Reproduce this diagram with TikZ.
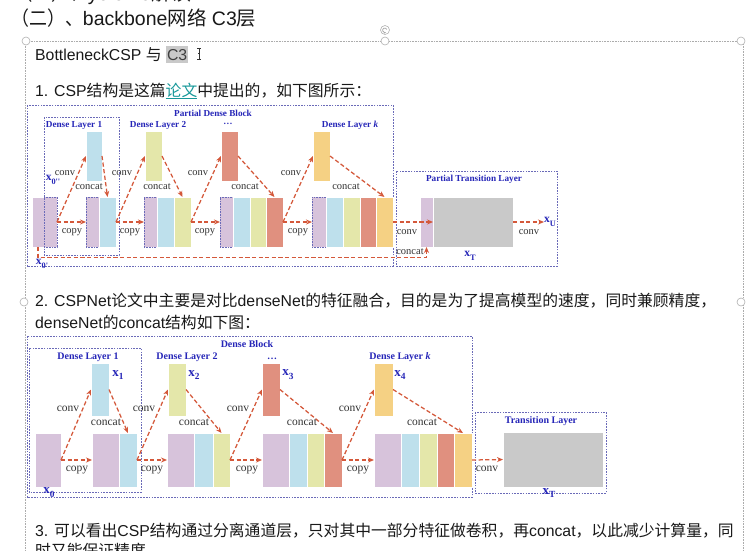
\documentclass[tikz,border=0pt]{standalone}
\usepackage{fontspec}
\usepackage{graphicx}
\setmainfont{Liberation Sans}
\newfontfamily\cjk{Noto Sans CJK SC}
\newfontfamily\tms{Liberation Serif}
\usetikzlibrary{arrows.meta}
\definecolor{cpur}{HTML}{D7C3DB}
\definecolor{cblb}{HTML}{BEE0EC}
\definecolor{cgrn}{HTML}{E4E7AA}
\definecolor{cred}{HTML}{E0907F}
\definecolor{cyel}{HTML}{F5D184}
\definecolor{cgry}{HTML}{C9C9C9}
\definecolor{carr}{HTML}{D4583A}
\definecolor{cblu}{HTML}{2626B8}
\definecolor{cfrm}{HTML}{6A6AB8}
\definecolor{clink}{HTML}{17989A}
\newcommand\zh[1]{{\cjk #1}}
\makeatletter
\newcommand\xs[2]{#1\raisebox{-0.3em}{\fontsize{\dimexpr 0.72\dimexpr\f@size pt\relax\relax}{1pt}\selectfont #2}}
\makeatother
\newcommand\blk[7][]{\node[blkst,fill=#7,minimum width={(#5-#3)*1pt},minimum height={(#6-#4)*1pt},anchor=north west,#1] (#2) at (#3,#4) {};}
\begin{document}
\begin{tikzpicture}[x=1pt,y=-1pt,
  blkst/.style={draw=white,line width=0.4pt,inner sep=0pt,outer sep=0pt},
  dotb/.style={draw=cfrm,dash pattern=on 0.8pt off 0.8pt,line width=0.6pt},
  frm/.style={draw=cfrm,line width=0.8pt,dash pattern=on 1.6pt off 1.2pt},
  arr/.style={draw=carr,line width=1.25pt,dash pattern=on 4.2pt off 2.4pt,-{Stealth[length=6pt,width=5pt]}},
  lbla/.style={font=\tms\fontsize{10.5}{12}\selectfont,text=black!80,inner sep=0pt},
  lblb/.style={font=\tms\fontsize{11.5}{13}\selectfont,text=black!80,inner sep=0pt},
  ttla/.style={font=\tms\bfseries\fontsize{9.2}{10}\selectfont,text=cblu,inner sep=0pt},
  ttlb/.style={font=\tms\bfseries\fontsize{10}{11}\selectfont,text=cblu,inner sep=0pt},
  xla/.style={font=\tms\bfseries\fontsize{11.5}{12}\selectfont,text=cblu,inner sep=0pt},
  xlb/.style={font=\tms\bfseries\fontsize{13}{14}\selectfont,text=cblu,inner sep=0pt},
  sel/.style={draw=gray!65,line width=0.7pt,dash pattern=on 0.8pt off 0.8pt},
  hdl/.style={circle,draw=gray!60,fill=white,line width=0.6pt,inner sep=0pt,minimum size=8pt},
  doc/.style={inner sep=0pt,anchor=base west,text=black!90}
]
\useasboundingbox (0,0) rectangle (747,550);
\clip (0,0) rectangle (747,550);
\fill[white] (0,0) rectangle (747,550);

% ---------- document text ----------
\node[doc,font=\fontsize{20}{24}\selectfont] (head0) at (14,0) {\scalebox{0.92}[1]{\zh{（一）、}}yolo v5\zh{解读}};
\node[doc,font=\fontsize{19.5}{24}\selectfont] (head) at (11,25) {\scalebox{0.92}[1]{\zh{（二）、}}backbone\zh{网络} C3\zh{层}};

% selection frame
\draw[sel] (25,41) -- (25,550);
\draw[sel] (26,41) -- (741,41);
\draw[sel] (743,41) -- (743,550);
\node[hdl] (h1) at (26,41) {};
\node[hdl] (h2) at (385,41) {};
\node[hdl] (h3) at (741,41) {};
\node[hdl] (h4) at (741,302) {};
\node[hdl] (h5) at (24,302) {};
\node[hdl,minimum size=9pt] (hr) at (385,30) {};
\draw[gray!70,line width=0.7pt,-{Stealth[length=2pt]}] ([shift={(1.8,-0.5)}]hr.center) arc[start angle=20,end angle=300,radius=2.2pt];

\node[doc,font=\fontsize{15.8}{18}\selectfont] (bl) at (35,60) {BottleneckCSP \zh{与}};
\node[anchor=base west,fill=cgry,inner xsep=1pt,inner ysep=2.5pt,font=\fontsize{15.8}{18}\selectfont,text=black!75] (c3) at ([xshift=4pt]bl.base east) {C3};
\draw[black!80,line width=0.7pt] (199,48) -- (199,59) (197,48) -- (201,48) (197,59) -- (201,59) (198,53.5) -- (200,53.5);

\node[doc,font=\fontsize{15.8}{18}\selectfont] (p1) at (35,96) {1. CSP\zh{结构是这篇}\textcolor{clink}{\underline{\zh{论文}}}\zh{中提出的，如下图所示：}};

\node[doc,font=\fontsize{15.8}{19}\selectfont] (p2) at (35,306) {2. CSPNet\zh{论文中主要是对比}denseNet\zh{的特征融合，目的是为了提高模型的速度，同时兼顾精度，}};
\node[doc,font=\fontsize{15.8}{19}\selectfont] (p2b) at (35,328) {denseNet\zh{的}concat\zh{结构如下图：}};
\node[doc,font=\fontsize{15.8}{19}\selectfont] (p3) at (35,536) {3. \zh{可以看出}CSP\zh{结构通过分离通道层，只对其中一部分特征做卷积，再}concat\zh{，以此减少计算量，同}};
\node[doc,font=\fontsize{15.8}{19}\selectfont] (p3b) at (35,556) {\zh{时又能保证精度}};

% ---------- diagram 1: CSP ----------
\draw[frm] (27,105) rectangle (393,266);
\draw[frm] (44,117) rectangle (119,255);
\draw[frm] (396,171) rectangle (557,266);

\blk{in1a}{32}{197}{44}{247}{cpur}
\blk[dotb]{in1b}{44}{197}{57}{247}{cpur}
\blk{t1}{86}{131}{102}{181}{cblb}
\blk{t2}{145}{131}{162}{181}{cgrn}
\blk{t3}{221}{131}{238}{181}{cred}
\blk{t4}{313}{131}{330}{181}{cyel}
\blk[dotb]{s1a}{86}{197}{99}{247}{cpur}
\blk{s1b}{99}{197}{116}{247}{cblb}
\blk[dotb]{s2a}{144}{197}{157}{247}{cpur}
\blk{s2b}{157}{197}{174}{247}{cblb}
\blk{s2c}{174}{197}{191}{247}{cgrn}
\blk[dotb]{s3a}{220}{197}{233}{247}{cpur}
\blk{s3b}{233}{197}{250}{247}{cblb}
\blk{s3c}{250}{197}{266}{247}{cgrn}
\blk{s3d}{266}{197}{283}{247}{cred}
\blk[dotb]{s4a}{312}{197}{326}{247}{cpur}
\blk{s4b}{326}{197}{343}{247}{cblb}
\blk{s4c}{343}{197}{360}{247}{cgrn}
\blk{s4d}{360}{197}{376}{247}{cred}
\blk{s4e}{376}{197}{393}{247}{cyel}
\blk{trp}{420}{197}{433}{247}{cpur}
\blk{trg}{433}{197}{513}{247}{cgry}

\node[ttla] (pdb) at (213,113) {Partial Dense Block};
\node[ttla] (dl1) at (74,125) {Dense Layer 1};
\node[ttla] (dl2) at (158,125) {Dense Layer 2};
\node[ttla] (dl3) at (228,124) {\dots};
\node[ttla] (dlk) at (350,125) {Dense Layer \textit{k}};
\node[ttla] (ptl) at (474,179) {Partial Transition Layer};
\node[xla] (x0pp) at (53,180) {\xs{x}{0''}};
\node[xla] (x0p) at (42,264) {\xs{x}{0'}};
\node[xla] (xt1) at (470,256) {\xs{x}{T}};
\node[xla,anchor=west] (xu) at (544,222) {\xs{x}{U}};

\node[lbla] at (65,173) {conv};
\node[lbla] at (89,187) {concat};
\node[lbla] at (72,232) {copy};
\node[lbla] at (122,173) {conv};
\node[lbla] at (157,187) {concat};
\node[lbla] at (130,232) {copy};
\node[lbla] at (198,173) {conv};
\node[lbla] at (245,187) {concat};
\node[lbla] at (205,232) {copy};
\node[lbla] at (291,173) {conv};
\node[lbla] at (346,187) {concat};
\node[lbla] at (298,232) {copy};
\node[lbla] at (407,232) {conv};
\node[lbla] at (410,252) {concat};
\node[lbla] at (529,232) {conv};

\draw[arr] (in1b.east) -- (s1a.west);
\draw[arr] (in1b.east) -- (t1.west);
\draw[arr] (t1.east) -- (s1b.north);
\draw[arr] (s1b.east) -- (s2a.west);
\draw[arr] (s1b.east) -- (t2.west);
\draw[arr] (t2.east) -- (s2c.north);
\draw[arr] (s2c.east) -- (s3a.west);
\draw[arr] (s2c.east) -- (t3.west);
\draw[arr] (t3.east) -- (s3d.north);
\draw[arr] (s3d.east) -- (s4a.west);
\draw[arr] (s3d.east) -- (t4.west);
\draw[arr] (t4.east) -- (s4e.north);
\draw[arr] (s4e.east) -- (trp.east);
\draw[arr] (trg.east) -- (xu.west);
\draw[arr] (in1a.south) -- ++(0,10.5) -| (trp.south);

% ---------- diagram 2: DenseNet ----------
\draw[frm] (27,336) rectangle (472,497);
\draw[frm] (29,348) rectangle (141,492);
\draw[frm] (475,412) rectangle (606,493);

\blk{u0}{35}{433}{61}{487}{cpur}
\blk{v1}{91}{363}{109}{416}{cblb}
\blk{v2}{168}{363}{186}{416}{cgrn}
\blk{v3}{262}{363}{280}{416}{cred}
\blk{v4}{374}{363}{393}{416}{cyel}
\blk{u1a}{92}{433}{119}{487}{cpur}
\blk{u1b}{119}{433}{137}{487}{cblb}
\blk{u2a}{167}{433}{194}{487}{cpur}
\blk{u2b}{194}{433}{213}{487}{cblb}
\blk{u2c}{213}{433}{230}{487}{cgrn}
\blk{u3a}{262}{433}{289}{487}{cpur}
\blk{u3b}{289}{433}{307}{487}{cblb}
\blk{u3c}{307}{433}{324}{487}{cgrn}
\blk{u3d}{324}{433}{342}{487}{cred}
\blk{u4a}{374}{433}{401}{487}{cpur}
\blk{u4b}{401}{433}{419}{487}{cblb}
\blk{u4c}{419}{433}{437}{487}{cgrn}
\blk{u4d}{437}{433}{454}{487}{cred}
\blk{u4e}{454}{433}{472}{487}{cyel}
\blk{ug}{503}{432}{603}{487}{cgry}

\node[ttlb] (db) at (247,344) {Dense Block};
\node[ttlb] (el1) at (88,357) {Dense Layer 1};
\node[ttlb] (el2) at (187,357) {Dense Layer 2};
\node[ttlb,anchor=base] (el3) at (272,359) {\dots};
\node[ttlb] (elk) at (400,357) {Dense Layer \textit{k}};
\node[ttlb] (tl) at (541,421) {Transition Layer};
\node[xlb] (x1) at (118,375) {\xs{x}{1}};
\node[xlb] (x2) at (194,375) {\xs{x}{2}};
\node[xlb] (x3) at (288,375) {\xs{x}{3}};
\node[xlb] (x4) at (400,375) {\xs{x}{4}};
\node[xlb] (x0) at (49,493) {\xs{x}{0}};
\node[xlb] (xt2) at (549,493) {\xs{x}{T}};

\node[lblb] at (68,409) {conv};
\node[lblb] at (106,422) {concat};
\node[lblb] at (77,470) {copy};
\node[lblb] at (144,409) {conv};
\node[lblb] at (194,422) {concat};
\node[lblb] at (152,470) {copy};
\node[lblb] at (238,409) {conv};
\node[lblb] at (302,422) {concat};
\node[lblb] at (247,470) {copy};
\node[lblb] at (350,409) {conv};
\node[lblb] at (422,422) {concat};
\node[lblb] at (358,470) {copy};
\node[lblb] at (487,469) {conv};

\draw[arr] (u0.east) -- (u1a.west);
\draw[arr] (u0.east) -- (v1.west);
\draw[arr] (v1.east) -- (u1b.north);
\draw[arr] (u1b.east) -- (u2a.west);
\draw[arr] (u1b.east) -- (v2.west);
\draw[arr] (v2.east) -- (u2c.north);
\draw[arr] (u2c.east) -- (u3a.west);
\draw[arr] (u2c.east) -- (v3.west);
\draw[arr] (v3.east) -- (u3d.north);
\draw[arr] (u3d.east) -- (u4a.west);
\draw[arr] (u3d.east) -- (v4.west);
\draw[arr] (v4.east) -- (u4e.north);
\draw[arr] (u4e.east) -- (ug.west);
\end{tikzpicture}
\end{document}
